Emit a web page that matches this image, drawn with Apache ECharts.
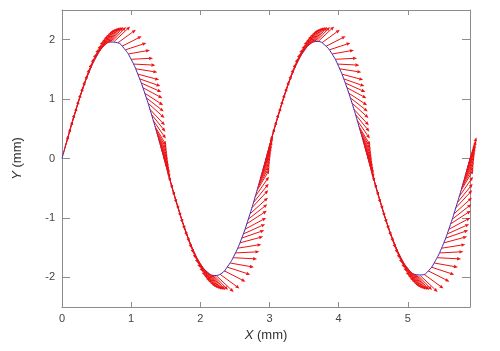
<!DOCTYPE html>
<html>
<head>
<meta charset="utf-8">
<script src="https://cdn.jsdelivr.net/npm/echarts@6/dist/echarts.min.js"></script>
<style>
  html, body { margin: 0; padding: 0; background: #fff; }
  #main { width: 500px; height: 351px; }
</style>
</head>
<body>
<div id="main"></div>
<script>
// blue curve
const curveX = [0,0.1,0.2,0.3,0.4,0.5,0.6,0.7,0.8,0.9,1.0,1.1,1.2,1.3,1.4,1.5,1.6,1.7,1.8,1.9,
  2.0,2.1,2.2,2.3,2.4,2.5,2.6,2.7,2.8,2.9,3.0,3.1,3.2,3.3,3.4,3.5,3.6,3.7,3.8,3.9,
  4.0,4.1,4.2,4.3,4.4,4.5,4.6,4.7,4.8,4.9,5.0,5.1,5.2,5.3,5.4,5.5,5.6,5.7,5.8,5.9];
const curveY = [0,0.42,0.81,1.17,1.48,1.72,1.89,1.96,1.95,1.85,1.67,1.41,1.09,0.72,0.32,-0.10,-0.52,-0.91,-1.26,-1.55,
  -1.77,-1.91,-1.97,-1.94,-1.81,-1.61,-1.34,-1.00,-0.62,-0.21,0.21,0.62,1.00,1.34,1.61,1.81,1.94,1.97,1.91,1.77,
  1.55,1.26,0.91,0.52,0.11,-0.31,-0.72,-1.09,-1.41,-1.67,-1.85,-1.95,-1.96,-1.89,-1.72,-1.48,-1.17,-0.81,-0.42,0];

// red arrows: start point (x, y) and vector (u, v), in mm
const arrowX = [
  0.016,0.074,0.131,0.189,0.246,0.303,0.361,0.418,0.475,0.524,0.574,0.615,0.656,0.697,
  0.754,0.811,0.869,0.918,0.959,1.000,1.033,1.065,1.098,1.123,1.147,1.172,1.196,1.221,1.246,1.270,1.295,1.319,1.344,1.369,1.393,1.418,1.442,1.467,
  1.491,1.549,1.606,1.664,1.721,1.778,1.836,1.893,1.950,1.999,2.049,2.090,2.131,2.172,
  2.229,2.286,2.344,2.393,2.434,2.475,2.508,2.540,2.573,2.598,2.622,2.647,2.671,2.696,2.721,2.745,2.770,2.794,2.819,2.844,2.868,2.893,2.917,2.942,
  2.966,3.024,3.081,3.139,3.196,3.253,3.311,3.368,3.425,3.474,3.524,3.565,3.606,3.647,
  3.704,3.761,3.819,3.868,3.909,3.950,3.983,4.015,4.048,4.073,4.097,4.122,4.146,4.171,4.196,4.220,4.245,4.269,4.294,4.319,4.343,4.368,4.392,4.417,
  4.441,4.499,4.556,4.614,4.671,4.728,4.786,4.843,4.900,4.949,4.999,5.040,5.081,5.122,
  5.179,5.236,5.294,5.343,5.384,5.425,5.458,5.490,5.523,5.548,5.572,5.597,5.621,5.646,5.671,5.695,5.720,5.744,5.769,5.794,5.818,5.843,5.867,5.892,
  0.045,0.102,0.160,0.217,0.275,0.332,0.389,0.447,0.500,0.549,0.594,0.635,0.676,0.725,
  1.356,1.381,1.405,1.430,1.455,
  1.520,1.577,1.635,1.692,1.750,1.807,1.864,1.922,1.975,2.024,2.069,2.110,2.151,2.200,
  2.831,2.856,2.880,2.905,2.930,
  2.995,3.052,3.110,3.167,3.225,3.282,3.339,3.397,3.450,3.499,3.544,3.585,3.626,3.675,
  4.306,4.331,4.355,4.380,4.405,
  4.470,4.527,4.585,4.642,4.700,4.757,4.814,4.872,4.925,4.974,5.019,5.060,5.101,5.150,
  5.781,5.806,5.830,5.855,5.880
];
const arrowY = [
  0.07,0.31,0.54,0.77,0.99,1.19,1.37,1.53,1.67,1.77,1.85,1.90,1.94,1.96,
  1.97,1.95,1.89,1.83,1.76,1.67,1.59,1.51,1.42,1.34,1.27,1.19,1.10,1.02,0.93,0.83,0.74,0.64,0.54,0.44,0.34,0.24,0.14,0.03,
  -0.07,-0.31,-0.54,-0.77,-0.99,-1.19,-1.37,-1.53,-1.67,-1.77,-1.85,-1.90,-1.94,-1.96,
  -1.97,-1.95,-1.89,-1.83,-1.76,-1.67,-1.59,-1.51,-1.42,-1.34,-1.27,-1.19,-1.10,-1.02,-0.93,-0.83,-0.74,-0.64,-0.54,-0.44,-0.34,-0.24,-0.14,-0.03,
  0.07,0.31,0.54,0.77,0.99,1.19,1.37,1.53,1.67,1.77,1.85,1.90,1.94,1.96,
  1.97,1.95,1.89,1.83,1.76,1.67,1.59,1.51,1.42,1.34,1.27,1.19,1.10,1.02,0.93,0.83,0.74,0.64,0.54,0.44,0.34,0.24,0.14,0.03,
  -0.07,-0.31,-0.54,-0.77,-0.99,-1.19,-1.37,-1.53,-1.67,-1.77,-1.85,-1.90,-1.94,-1.96,
  -1.97,-1.95,-1.89,-1.83,-1.76,-1.67,-1.59,-1.51,-1.42,-1.34,-1.27,-1.19,-1.10,-1.02,-0.93,-0.83,-0.74,-0.64,-0.54,-0.44,-0.34,-0.24,-0.14,-0.03,
  0.19,0.43,0.66,0.88,1.09,1.28,1.45,1.60,1.72,1.81,1.88,1.92,1.95,1.97,
  0.49,0.39,0.29,0.19,0.09,
  -0.19,-0.43,-0.66,-0.88,-1.09,-1.28,-1.45,-1.60,-1.72,-1.81,-1.88,-1.92,-1.95,-1.97,
  -0.49,-0.39,-0.29,-0.19,-0.09,
  0.19,0.43,0.66,0.88,1.09,1.28,1.45,1.60,1.72,1.81,1.88,1.92,1.95,1.97,
  0.49,0.39,0.29,0.19,0.09,
  -0.19,-0.43,-0.66,-0.88,-1.09,-1.28,-1.45,-1.60,-1.72,-1.81,-1.88,-1.92,-1.95,-1.97,
  -0.49,-0.39,-0.29,-0.19,-0.09
];
const arrowU = [
  0.080,0.080,0.084,0.084,0.089,0.094,0.099,0.108,0.117,0.131,0.144,0.157,0.174,0.189,
  0.232,0.257,0.283,0.302,0.313,0.317,0.317,0.314,0.307,0.300,0.290,0.280,0.266,0.250,0.236,0.217,0.200,0.182,0.164,0.144,0.129,0.114,0.103,0.093,
  0.080,0.080,0.084,0.084,0.089,0.094,0.099,0.108,0.117,0.131,0.144,0.157,0.174,0.189,
  0.253,0.280,0.309,0.329,0.341,0.346,0.346,0.343,0.335,0.327,0.316,0.305,0.290,0.273,0.257,0.237,0.218,0.199,0.179,0.157,0.141,0.124,0.112,0.101,
  0.080,0.080,0.084,0.084,0.089,0.094,0.099,0.108,0.117,0.131,0.144,0.157,0.174,0.189,
  0.232,0.257,0.283,0.302,0.313,0.317,0.317,0.314,0.307,0.300,0.290,0.280,0.266,0.250,0.236,0.217,0.200,0.182,0.164,0.144,0.129,0.114,0.103,0.093,
  0.080,0.080,0.084,0.084,0.089,0.094,0.099,0.108,0.117,0.131,0.144,0.157,0.174,0.189,
  0.253,0.280,0.309,0.329,0.341,0.346,0.346,0.343,0.335,0.327,0.316,0.305,0.290,0.273,0.257,0.237,0.218,0.199,0.179,0.157,0.141,0.124,0.112,0.101,
  0.080,0.080,0.084,0.087,0.092,0.096,0.103,0.113,0.124,0.138,0.151,0.166,0.182,0.200,
  0.154,0.137,0.122,0.109,0.098,
  0.080,0.080,0.084,0.087,0.092,0.096,0.103,0.113,0.124,0.138,0.151,0.166,0.182,0.200,
  0.168,0.149,0.133,0.119,0.107,
  0.080,0.080,0.084,0.087,0.092,0.096,0.103,0.113,0.124,0.138,0.151,0.166,0.182,0.200,
  0.154,0.137,0.122,0.109,0.098,
  0.080,0.080,0.084,0.087,0.092,0.096,0.103,0.113,0.124,0.138,0.151,0.166,0.182,0.200,
  0.168,0.149,0.133,0.119,0.107
];
const arrowV = [
  0.324,0.324,0.323,0.323,0.321,0.319,0.317,0.313,0.308,0.301,0.292,0.283,0.269,0.255,
  0.253,0.218,0.168,0.115,0.064,0.019,-0.019,-0.058,-0.096,-0.121,-0.151,-0.174,-0.202,-0.228,-0.248,-0.271,-0.288,-0.304,-0.318,-0.331,-0.339,-0.346,-0.351,-0.355,
  -0.324,-0.324,-0.323,-0.323,-0.321,-0.319,-0.317,-0.313,-0.308,-0.301,-0.292,-0.283,-0.269,-0.255,
  -0.276,-0.238,-0.183,-0.125,-0.070,-0.021,0.021,0.063,0.105,0.132,0.165,0.190,0.220,0.249,0.271,0.296,0.314,0.332,0.347,0.361,0.370,0.377,0.383,0.387,
  0.324,0.324,0.323,0.323,0.321,0.319,0.317,0.313,0.308,0.301,0.292,0.283,0.269,0.255,
  0.253,0.218,0.168,0.115,0.064,0.019,-0.019,-0.058,-0.096,-0.121,-0.151,-0.174,-0.202,-0.228,-0.248,-0.271,-0.288,-0.304,-0.318,-0.331,-0.339,-0.346,-0.351,-0.355,
  -0.324,-0.324,-0.323,-0.323,-0.321,-0.319,-0.317,-0.313,-0.308,-0.301,-0.292,-0.283,-0.269,-0.255,
  -0.276,-0.238,-0.183,-0.125,-0.070,-0.021,0.021,0.063,0.105,0.132,0.165,0.190,0.220,0.249,0.271,0.296,0.314,0.332,0.347,0.361,0.370,0.377,0.383,0.387,
  0.324,0.324,0.323,0.322,0.320,0.318,0.315,0.310,0.304,0.296,0.288,0.276,0.262,0.243,
  -0.324,-0.335,-0.343,-0.349,-0.353,
  -0.324,-0.324,-0.323,-0.322,-0.320,-0.318,-0.315,-0.310,-0.304,-0.296,-0.288,-0.276,-0.262,-0.243,
  0.353,0.365,0.374,0.381,0.385,
  0.324,0.324,0.323,0.322,0.320,0.318,0.315,0.310,0.304,0.296,0.288,0.276,0.262,0.243,
  -0.324,-0.335,-0.343,-0.349,-0.353,
  -0.324,-0.324,-0.323,-0.322,-0.320,-0.318,-0.315,-0.310,-0.304,-0.296,-0.288,-0.276,-0.262,-0.243,
  0.353,0.365,0.374,0.381,0.385
];

const xTicks = [0, 1, 2, 3, 4, 5];
const yTicks = [-2, -1, 0, 1, 2];

const frameColor = '#8c8c8c';
const labelColor = '#444';
const font = 'Liberation Sans, Arial, sans-serif';

function xAx(pos, show) {
  return {
    type: 'value', position: pos, min: 0, max: 5.9,
    axisLine: { show: true, onZero: false, lineStyle: { color: frameColor, width: 1 } },
    axisTick: { show: true, inside: true, length: 5, customValues: xTicks, lineStyle: { color: frameColor } },
    axisLabel: { show: show, customValues: xTicks, color: labelColor, fontSize: 11, fontFamily: font, margin: 6 },
    splitLine: { show: false }
  };
}
function yAx(pos, show) {
  return {
    type: 'value', position: pos, min: -2.5, max: 2.5,
    axisLine: { show: true, onZero: false, lineStyle: { color: frameColor, width: 1 } },
    axisTick: { show: true, inside: true, length: 8, customValues: yTicks, lineStyle: { color: frameColor } },
    axisLabel: { show: show, customValues: yTicks, color: labelColor, fontSize: 11, fontFamily: font, margin: 7 },
    splitLine: { show: false }
  };
}

const xBottom = xAx('bottom', true);
xBottom.name = '{i|X} (mm)';
xBottom.nameLocation = 'middle';
xBottom.nameGap = 15;
xBottom.nameTextStyle = { color: '#333', fontSize: 13, fontFamily: font, rich: { i: { fontStyle: 'italic', fontSize: 13, fontFamily: font, color: '#333' } } };
const yLeft = yAx('left', true);
yLeft.name = '{i|Y} (mm)';
yLeft.nameLocation = 'middle';
yLeft.nameGap = 38;
yLeft.nameTextStyle = { color: '#333', fontSize: 13, fontFamily: font, rich: { i: { fontStyle: 'italic', fontSize: 13, fontFamily: font, color: '#333' } } };

const chart = echarts.init(document.getElementById('main'), null, { renderer: 'canvas' });
chart.setOption({
  animation: false,
  backgroundColor: '#fff',
  grid: { left: 62, right: 30, top: 10, bottom: 44 },
  xAxis: [xBottom, xAx('top', false)],
  yAxis: [yLeft, yAx('right', false)],
  series: [
    {
      type: 'line',
      xAxisIndex: 0, yAxisIndex: 0,
      data: curveX.map((x, i) => [x, curveY[i]]),
      smooth: true,
      showSymbol: false,
      lineStyle: { color: '#2a2ac8', width: 1 },
      z: 2
    },
    {
      type: 'custom',
      xAxisIndex: 0, yAxisIndex: 0,
      data: arrowX.map((x, i) => [x, arrowY[i], arrowU[i], arrowV[i]]),
      encode: { x: 0, y: 1 },
      z: 3,
      renderItem: function (params, api) {
        const x = api.value(0), y = api.value(1);
        const p0 = api.coord([x, y]);
        const p1 = api.coord([x + api.value(2), y + api.value(3)]);
        const dx = p1[0] - p0[0], dy = p1[1] - p0[1];
        const len = Math.sqrt(dx * dx + dy * dy) || 1;
        const ux = dx / len, uy = dy / len;
        const hl = 4, hw = 1.7;
        const bx = p1[0] - ux * hl, by = p1[1] - uy * hl;
        return {
          type: 'group',
          children: [
            { type: 'line', shape: { x1: p0[0], y1: p0[1], x2: bx, y2: by },
              style: { stroke: '#ee1111', lineWidth: 1 } },
            { type: 'polygon', shape: { points: [[p1[0], p1[1]], [bx - uy * hw, by + ux * hw], [bx + uy * hw, by - ux * hw]] },
              style: { fill: '#ee1111' } }
          ]
        };
      }
    }
  ]
});
</script>
</body>
</html>
